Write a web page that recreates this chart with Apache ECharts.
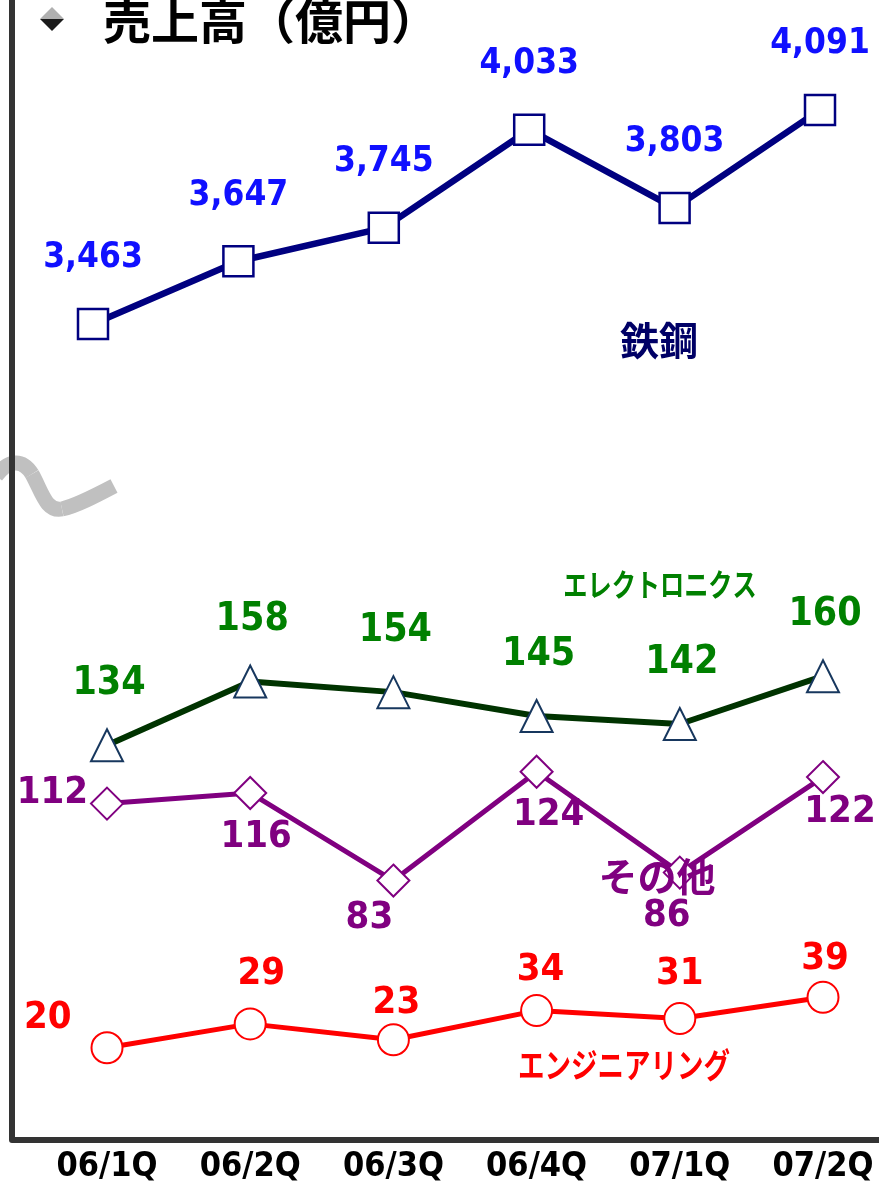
<!DOCTYPE html>
<html>
<head>
<meta charset="utf-8">
<script src="https://cdn.jsdelivr.net/npm/echarts@6/dist/echarts.min.js"></script>
<style>
  html, body { margin: 0; padding: 0; background: #ffffff; }
  #chart { width: 879px; height: 1184px; }
</style>
</head>
<body>
<div id="chart"></div>
<script>
// Quarterly sales by segment (億円)
const quarters = ['06/1Q', '06/2Q', '06/3Q', '06/4Q', '07/1Q', '07/2Q'];
const steel = [3463, 3647, 3745, 4033, 3803, 4091];
const electronics = [134, 158, 154, 145, 142, 160];
const other = [112, 116, 83, 124, 86, 122];
const engineering = [20, 29, 23, 34, 31, 39];

const NUM_FONT = '"DejaVu Sans Condensed", "DejaVu Sans", sans-serif';
const JP_FONT = '"Noto Sans CJK JP", "Noto Sans CJK SC", sans-serif';

// per-point label placement for the lower series: [position, distance, dx, dy]
const otherLabelPlace = [
  ['left', 2, 0, -10], ['bottom', 8, 6, 0], ['bottom', 2, -24, 0],
  ['bottom', 7, 12, 0], ['bottom', 8, -13, 0], ['bottom', 0, 17, -1]
];
const engLabelPlace = [
  ['left', 19, 0, -30], ['top', 14, 11, 0], ['top', 1, 3, 0],
  ['top', 5, 4, 0], ['top', 9, 0, 0], ['top', 3, 2, 0]
];

function placed(values, place) {
  return values.map((v, i) => ({
    value: v,
    label: {
      position: place[i][0],
      distance: place[i][1],
      offset: [place[i][2], place[i][3]]
    }
  }));
}

function valueLabel(color, size, fmt) {
  return {
    show: true,
    color: color,
    fontFamily: NUM_FONT,
    fontWeight: 'bold',
    fontSize: size,
    formatter: fmt || '{c}'
  };
}

// break mark between the two value ranges, as joined cubic segments
const breakSegments = [
  [-4, 476, 8, 460, 22, 458, 32, 474],
  [32, 474, 42, 492, 46, 512, 62, 509],
  [62, 509, 76, 506, 95, 496, 114, 486]
].map(s => ({
  type: 'bezierCurve', z: 1, silent: true,
  shape: { x1: s[0], y1: s[1], cpx1: s[2], cpy1: s[3], cpx2: s[4], cpy2: s[5], x2: s[6], y2: s[7] },
  style: { fill: null, stroke: '#C0C0C0', lineWidth: 15, lineCap: 'butt' }
}));

const chart = echarts.init(document.getElementById('chart'), null, { renderer: 'canvas' });

chart.setOption({
  animation: false,
  backgroundColor: '#ffffff',
  grid: [
    { left: 93, right: 59, top: 38.7, height: 340.8 },
    { left: 107, right: 56, top: 607.2, height: 532 }
  ],
  xAxis: [
    { gridIndex: 0, type: 'category', data: quarters, boundaryGap: false, show: false },
    {
      gridIndex: 1, type: 'category', data: quarters, boundaryGap: false,
      axisLine: { show: false }, axisTick: { show: false },
      axisLabel: {
        margin: 12, color: '#000000', fontFamily: NUM_FONT,
        fontWeight: 'bold', fontSize: 34, interval: 0
      },
      splitLine: { show: false }
    }
  ],
  yAxis: [
    { gridIndex: 0, type: 'value', min: 3300, max: 4300, show: false },
    { gridIndex: 1, type: 'value', min: -14, max: 186, show: false }
  ],
  series: [
    {
      name: '鉄鋼', type: 'line', xAxisIndex: 0, yAxisIndex: 0,
      data: steel,
      lineStyle: { color: '#000080', width: 6.5 },
      symbol: 'rect', symbolSize: 30,
      itemStyle: { color: '#ffffff', borderColor: '#000080', borderWidth: 2.5 },
      label: Object.assign(valueLabel('#1010FF', 35, p => p.value.toLocaleString('en-US')),
        { position: 'top', distance: 32 }),
      z: 3
    },
    {
      name: 'エレクトロニクス', type: 'line', xAxisIndex: 1, yAxisIndex: 1,
      data: electronics,
      lineStyle: { color: '#003300', width: 6 },
      symbol: 'triangle', symbolSize: 32,
      itemStyle: { color: '#ffffff', borderColor: '#17375E', borderWidth: 2 },
      label: Object.assign(valueLabel('#008000', 39), { position: 'top', distance: 25, offset: [2, 0] }),
      z: 3
    },
    {
      name: 'その他', type: 'line', xAxisIndex: 1, yAxisIndex: 1,
      data: placed(other, otherLabelPlace),
      lineStyle: { color: '#800080', width: 5 },
      symbol: 'diamond', symbolSize: 32,
      itemStyle: { color: '#ffffff', borderColor: '#800080', borderWidth: 2 },
      label: valueLabel('#800080', 38),
      z: 3
    },
    {
      name: 'エンジニアリング', type: 'line', xAxisIndex: 1, yAxisIndex: 1,
      data: placed(engineering, engLabelPlace),
      lineStyle: { color: '#FF0000', width: 5 },
      symbol: 'circle', symbolSize: 31,
      itemStyle: { color: '#ffffff', borderColor: '#FF0000', borderWidth: 2 },
      label: valueLabel('#FF0000', 38),
      z: 3
    }
  ],
  graphic: breakSegments.concat([
    // axis frame
    {
      type: 'polyline', z: 5, silent: true,
      shape: { points: [[12, -5], [12, 1140], [884, 1140]] },
      style: { fill: null, stroke: '#333333', lineWidth: 6, lineJoin: 'round' }
    },
    // title bullet
    {
      type: 'polygon', z: 5, silent: true,
      shape: { points: [[52, 7], [64, 19], [40, 19]] },
      style: { fill: '#b0b0b0' }
    },
    {
      type: 'polygon', z: 5, silent: true,
      shape: { points: [[40, 19], [64, 19], [52, 31]] },
      style: { fill: '#1a1a1a' }
    },
    {
      type: 'text', z: 6, silent: true,
      style: {
        text: '売上高（億円）', x: 103, y: 21, align: 'left', verticalAlign: 'middle',
        fill: '#000000', font: 'bold 48px ' + JP_FONT
      }
    },
    // series names
    {
      type: 'text', z: 6, silent: true,
      style: {
        text: '鉄鋼', x: 659, y: 340, align: 'center', verticalAlign: 'middle',
        fill: '#000066', font: 'bold 39px ' + JP_FONT
      }
    },
    {
      type: 'text', z: 6, silent: true, x: 660, y: 584, scaleX: 0.78,
      style: {
        text: 'エレクトロニクス', x: 0, y: 0, align: 'center', verticalAlign: 'middle',
        fill: '#008000', font: 'bold 31px ' + JP_FONT
      }
    },
    {
      type: 'text', z: 6, silent: true,
      style: {
        text: 'その他', x: 657, y: 876, align: 'center', verticalAlign: 'middle',
        fill: '#800080', font: 'bold 39px ' + JP_FONT
      }
    },
    {
      type: 'text', z: 6, silent: true, x: 624, y: 1065, scaleX: 0.78,
      style: {
        text: 'エンジニアリング', x: 0, y: 0, align: 'center', verticalAlign: 'middle',
        fill: '#FF0000', font: 'bold 34px ' + JP_FONT
      }
    }
  ])
});
</script>
</body>
</html>
